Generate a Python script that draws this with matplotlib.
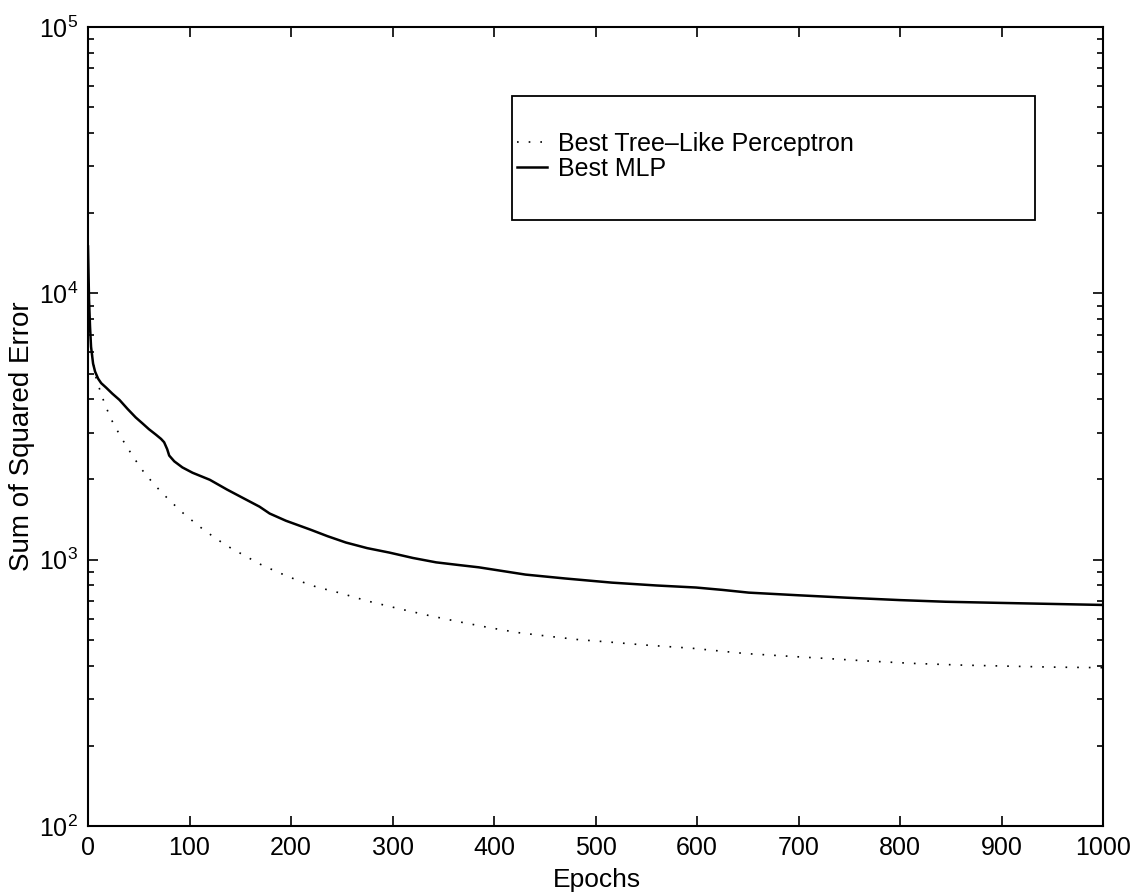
import matplotlib.pyplot as plt
import matplotlib.ticker as mticker
from matplotlib.patches import Rectangle

plt.rcParams['font.family'] = ['Liberation Sans', 'DejaVu Sans']
plt.rcParams['mathtext.default'] = 'regular'

# Sum of squared error vs epochs
mlp_epochs = [0, 1, 2, 3, 5, 7, 10, 13, 18, 24, 31, 39, 47, 54, 60, 67, 72,
              75, 78, 80, 85, 93, 103, 120, 137, 152, 169, 179, 195, 219,
              236, 254, 275, 297, 320, 343, 365, 385, 431, 470, 516, 560,
              599, 625, 651, 700, 747, 800, 845, 900, 950, 1000]
mlp_sse = [15000, 9500, 7500, 6300, 5450, 5080, 4780, 4600, 4420, 4200, 3980,
           3680, 3420, 3240, 3090, 2945, 2840, 2760, 2600, 2460, 2340, 2220,
           2120, 1995, 1833, 1710, 1581, 1490, 1400, 1297, 1225, 1160, 1105,
           1063, 1015, 977, 955, 936, 879, 850, 820, 800, 786, 770, 752, 735,
           720, 705, 695, 688, 682, 676]

tlp_epochs = [0, 2, 5, 8, 11, 14, 22, 30, 37, 45, 53, 63, 73, 84, 95, 110,
              126, 140, 152, 170, 188, 207, 225, 247, 275, 306, 335, 365, 395,
              424, 455, 483, 515, 549, 595, 648, 690, 730, 770, 812, 860, 910,
              950, 1000]
tlp_sse = [12000, 7000, 5500, 4800, 4420, 4080, 3410, 3000, 2700, 2420, 2180,
           1960, 1780, 1620, 1480, 1330, 1200, 1110, 1047, 960, 894, 835, 790,
           752, 700, 655, 618, 585, 556, 532, 515, 501, 490, 478, 465, 444,
           434, 425, 416, 408, 402, 398, 395, 393]

labels = ['Best Tree\u2013Like Perceptron', 'Best MLP']

fig = plt.figure(figsize=(11.38, 8.94), dpi=100)
ax = fig.add_axes([88 / 1138, 68 / 894, 1015 / 1138, 799 / 894])

ax.plot(tlp_epochs, tlp_sse, color='black', linewidth=1.2,
        linestyle=(0, (1.0, 6.0)), label=labels[0])
ax.plot(mlp_epochs, mlp_sse, color='black', linewidth=1.8, label=labels[1])

ax.set_yscale('log')
ax.set_xlim(0, 1000)
ax.set_ylim(1e2, 1e5)
ax.set_xticks(range(0, 1001, 100))
ax.yaxis.set_minor_locator(mticker.LogLocator(base=10, subs=range(2, 10)))
ax.yaxis.set_minor_formatter(mticker.NullFormatter())

ax.tick_params(which='both', direction='in', top=True, right=True,
               labelsize=18, width=1.2)
ax.tick_params(which='major', length=7.5, pad=7)
ax.tick_params(which='minor', length=4)
for s in ax.spines.values():
    s.set_linewidth(1.5)

ax.set_xlabel('Epochs', fontsize=19)
ax.set_ylabel('Sum of Squared Error', fontsize=20)
ax.xaxis.set_label_coords(0.501, -0.052)
ax.yaxis.set_label_coords(-0.052, 0.488)

# MATLAB style legend box, wider than its content
box = Rectangle((0.4177, 0.7584), 0.933 - 0.4177, 0.9136 - 0.7584,
                transform=ax.transAxes, fill=True, facecolor='white',
                edgecolor='black', linewidth=1.3, zorder=4)
ax.add_patch(box)
leg = ax.legend(loc='upper left', bbox_to_anchor=(0.4226, 0.869),
                frameon=False, fontsize=18, borderpad=0, borderaxespad=0,
                handlelength=1.2, handletextpad=0.45, labelspacing=0.05)
leg.set_zorder(5)

plt.savefig('out.png', dpi=100, facecolor='white')
plt.close()
